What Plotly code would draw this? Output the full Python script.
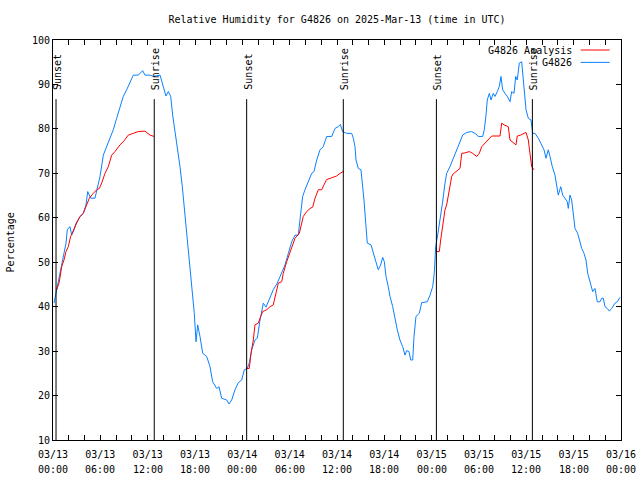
import pandas as pd
import plotly.graph_objects as go

START = pd.Timestamp("2025-03-13 00:00")

# Observed relative humidity (G4826): hours since 03/13 00:00 UTC, value in %
obs_hours = [0.13, 0.47, 0.89, 1.31, 1.65, 1.81, 2.15, 2.37, 2.66, 2.92, 3.42, 3.84, 4.18, 4.40, 4.78,
             5.32, 5.54, 5.96, 6.38, 6.81, 7.23, 7.64, 8.07, 8.49, 8.91, 9.34, 9.76, 10.18, 10.81,
             11.37, 11.66, 12.30, 12.71, 12.93, 13.57, 13.98, 14.32, 14.62, 14.92, 15.17, 15.46,
             15.76, 16.10, 16.39, 16.64, 16.86, 17.15, 17.45, 17.71, 17.91, 18.13, 18.34, 18.63,
             18.98, 19.48, 19.90, 20.24, 20.75, 21.04, 21.38, 22.02, 22.31, 22.65, 23.07, 23.49,
             23.92, 24.25, 24.63, 24.88, 25.19, 25.60, 25.90, 26.24, 26.66, 27.00, 27.42, 27.92,
             28.43, 28.99, 29.41, 29.83, 30.26, 30.68, 31.09, 31.40, 31.65, 31.94, 32.36, 32.79,
             33.08, 33.43, 33.84, 34.26, 34.69, 35.33, 35.75, 36.16, 36.42, 36.72, 37.23, 37.86,
             38.07, 38.28, 38.41, 38.70, 39.04, 39.26, 39.42, 39.64, 39.84, 40.31, 40.60, 40.91,
             41.23, 41.54, 41.79, 42.00, 42.21, 42.50, 42.72, 43.06, 43.35, 43.64, 43.98, 44.33,
             44.62, 44.83, 45.13, 45.34, 45.60, 45.76, 46.01, 46.43, 46.74, 47.45, 47.79, 48.13,
             48.33, 48.51, 48.76, 49.06, 49.37, 49.69, 49.90, 50.32, 50.74, 51.17, 51.59, 51.93,
             52.44, 53.07, 53.49, 53.91, 54.47, 54.67, 54.89, 55.05, 55.31, 55.52, 55.81, 56.03,
             56.32, 56.57, 56.79, 57.00, 57.29, 57.59, 57.93, 58.14, 58.44, 58.65, 58.85, 59.11,
             59.41, 59.70, 59.96, 60.25, 60.59, 60.81, 61.10, 61.52, 61.95, 62.24, 62.49, 62.78,
             63.00, 63.29, 63.63, 63.85, 64.05, 64.36, 64.61, 64.90, 65.19, 65.32, 65.53, 65.75,
             65.95, 66.17, 66.51, 66.80, 67.02, 67.31, 67.56, 67.78, 68.07, 68.41, 68.70, 68.99,
             69.34, 69.55, 69.75, 69.97, 70.26, 70.52, 70.82, 71.24, 71.53, 71.87]
obs_values = [40.8, 43.8, 47.6, 50.5, 54.3, 57.3, 58.0, 56.1, 57.2, 58.8, 60.2, 61.0, 62.9, 65.9, 64.4,
              64.4, 66.3, 69.3, 74.1, 76.0, 77.9, 79.8, 82.4, 85.0, 87.3, 88.8, 90.3, 92.1, 92.1,
              93.1, 92.1, 92.1, 91.8, 91.9, 92.1, 89.5, 87.4, 88.4, 87.3, 83.1, 79.8,
              76.0, 71.5, 67.0, 62.5, 57.3, 52.0, 47.5, 43.0, 38.5, 32.1, 35.9, 33.3,
              29.5, 28.8, 26.5, 23.1, 21.6, 22.0, 19.4, 19.0, 18.1, 19.0, 21.3, 22.9,
              23.5, 25.8, 26.1, 27.3, 30.3, 32.5, 32.9, 37.0, 40.8, 39.9, 41.5, 43.8,
              45.3, 47.5, 49.4, 52.0, 54.6, 56.1, 56.1, 61.0, 64.8, 66.3, 68.1, 70.0,
              70.4, 73.0, 75.3, 76.0, 78.3, 78.3, 80.1, 80.5, 81.0, 79.4, 79.0, 79.0,
              77.9, 76.0, 73.0, 71.1, 70.8, 67.0, 64.0, 58.8, 54.3, 53.9, 52.0, 49.8,
              48.3, 49.4, 51.1, 50.1, 46.8, 44.5, 42.3, 40.0, 37.0, 34.8, 32.5, 31.0,
              29.1, 30.1, 29.9, 28.0, 28.0, 33.3, 37.8, 38.5, 40.9, 41.1, 42.6, 44.5,
              47.5, 53.5, 56.1, 59.5, 63.3, 67.8, 70.0, 71.5, 73.4, 74.9, 76.8, 78.6,
              79.2, 79.4, 79.0, 78.3, 78.3, 79.8, 83.1, 86.5, 88.0, 86.5, 88.0, 87.3,
              88.4, 89.5, 91.8, 88.8, 88.0, 87.3, 86.1, 88.4, 88.0, 91.8, 91.0, 94.8,
              95.1, 89.5, 84.3, 82.4, 82.0, 79.0, 79.0, 77.9, 76.4, 75.3, 73.4, 75.3,
              73.8, 71.5, 69.6, 67.0, 65.1, 67.0, 65.1, 64.4, 63.6, 62.1, 65.1, 64.0,
              60.3, 57.6, 56.5, 54.3, 53.1, 52.0, 50.5, 47.5, 45.6, 43.4, 44.1, 41.1,
              41.1, 41.9, 41.9, 40.0, 39.6, 39.0, 39.6, 40.8, 41.1, 42.1]

# Analysis (G4826 Analysis): three night-time segments
ana1_hours = [0.47, 0.80, 1.10, 1.39, 1.65, 1.94, 2.24, 2.57, 3.00, 3.42, 3.84, 4.18, 4.60, 5.11,
              5.54, 5.87, 6.17, 6.59, 7.01, 7.44, 7.86, 8.49, 8.91, 9.54, 10.18, 10.81, 11.66,
              12.30, 12.80]
ana1_values = [43.8, 45.6, 49.0, 50.5, 52.4, 53.5, 55.8, 57.3, 58.8, 60.3, 61.0, 62.5, 64.4, 65.5,
               66.3, 66.6, 67.8, 70.0, 71.5, 74.1, 74.9, 76.4, 77.1, 78.6, 79.0, 79.4, 79.5,
               78.6, 78.3]
ana2_hours = [24.55, 24.88, 25.10, 25.39, 25.60, 26.02, 26.33, 26.58, 27.09, 27.51, 27.92, 28.27,
              28.56, 28.99, 29.19, 29.62, 30.04, 30.38, 30.68, 31.22, 31.52, 31.73, 32.16, 32.58,
              32.92, 33.21, 33.63, 34.06, 34.35, 34.69, 35.33, 35.96, 36.38, 36.89]
ana2_values = [26.1, 26.1, 29.5, 32.5, 35.9, 36.3, 37.8, 38.9, 39.3, 40.0, 40.4, 43.0,
               45.3, 45.6, 47.5, 50.1, 52.4, 54.3, 55.4, 56.5, 58.4, 60.3, 61.4, 62.1,
               62.4, 64.4, 66.3, 66.3, 67.4, 68.6, 69.0, 69.4, 70.0, 70.5]
ana3_hours = [48.64, 48.97, 49.14, 49.40, 49.69, 49.90, 50.11, 50.32, 50.54, 50.74, 51.17, 51.59,
              51.81, 52.23, 52.77, 53.20, 53.71, 54.04, 54.34, 54.76, 54.98, 55.39, 55.61, 56.66,
              56.88, 57.17, 57.71, 57.93, 58.35, 58.69, 58.85, 59.28, 59.96, 60.25, 60.46, 60.68,
              60.97]
ana3_values = [52.4, 52.4, 55.0, 58.8, 61.8, 62.9, 65.1, 67.4, 69.3, 69.9, 70.6, 71.1,
               74.5, 74.6, 74.9, 74.5, 73.8, 74.5, 76.0, 76.8, 77.1, 77.9, 78.4, 78.4,
               81.3, 80.9, 80.5, 77.5, 76.9, 76.4, 78.4, 78.6, 79.2, 77.5, 74.5, 71.5,
               70.8]

# Sun events
event_times = ["2025-03-13 00:23", "2025-03-13 12:50", "2025-03-14 00:33",
               "2025-03-14 12:48", "2025-03-15 00:36", "2025-03-15 12:46"]
event_labels = ["Sunset", "Sunrise", "Sunset", "Sunrise", "Sunset", "Sunrise"]

title_text = "Relative Humidity for G4826 on 2025-Mar-13 (time in UTC)"
y_title = "Percentage"
series_names = ["G4826 Analysis", "G4826"]
series_colors = ["#ff0000", "#0a80ff"]

FONT = "DejaVu Sans Mono"


def to_time(hours):
    return [START + pd.Timedelta(hours=h) for h in hours]


ana_x = to_time(ana1_hours) + [None] + to_time(ana2_hours) + [None] + to_time(ana3_hours)
ana_y = ana1_values + [None] + ana2_values + [None] + ana3_values

fig = go.Figure()
fig.add_trace(go.Scatter(x=to_time(obs_hours), y=obs_values, mode="lines",
                         line=dict(color=series_colors[1], width=1),
                         name=series_names[1], showlegend=False))
fig.add_trace(go.Scatter(x=ana_x, y=ana_y, mode="lines", connectgaps=False,
                         line=dict(color=series_colors[0], width=1),
                         name=series_names[0], showlegend=False))

shapes = []
annotations = []
for t, lab in zip(event_times, event_labels):
    shapes.append(dict(type="line", xref="x", yref="y", x0=t, x1=t, y0=10, y1=86.7,
                       line=dict(color="black", width=1)))
    annotations.append(dict(x=t, y=88.3, xref="x", yref="y", text=lab, textangle=-90,
                            showarrow=False, xanchor="center", yanchor="bottom", xshift=1,
                            font=dict(family=FONT, size=10, color="black")))

# Gnuplot-style legend (text left of sample line)
for i, (nm, col) in enumerate(zip(series_names, series_colors)):
    yp = 0.975 - i * 0.031
    annotations.append(dict(x=0.918, y=yp, xref="paper", yref="paper", text=nm, showarrow=False,
                            xanchor="right", yanchor="middle",
                            font=dict(family=FONT, size=10, color="black")))
    shapes.append(dict(type="line", xref="paper", yref="paper", x0=0.929, x1=0.98, y0=yp, y1=yp,
                       line=dict(color=col, width=1)))

# Y axis title
annotations.append(dict(x=-0.075, y=0.495, xref="paper", yref="paper", text=y_title,
                        textangle=-90, showarrow=False, xanchor="center", yanchor="middle",
                        font=dict(family=FONT, size=10, color="black")))

tick_times = pd.date_range("2025-03-13 00:00", "2025-03-16 00:00", freq="2h")
tick_text = [t.strftime("%m/%d") if t.hour % 6 == 0 else "" for t in tick_times]

# Second line of the time tick labels (HH:MM), placed as in gnuplot
for t in tick_times:
    if t.hour % 6 == 0:
        annotations.append(dict(x=t, y=-0.0725, xref="x", yref="paper", text=t.strftime("%H:%M"),
                                showarrow=False, xanchor="center", yanchor="middle",
                                font=dict(family=FONT, size=10, color="black")))

fig.update_layout(
    width=640, height=480,
    margin=dict(l=53, r=19, t=40, b=40, autoexpand=False),
    paper_bgcolor="white", plot_bgcolor="white",
    font=dict(family=FONT, size=10, color="black"),
    title=dict(text=title_text, x=(53 + 284) / 640, xanchor="center", y=1 - 19 / 480,
               yanchor="middle", font=dict(family=FONT, size=10, color="black")),
    shapes=shapes, annotations=annotations,
    showlegend=False,
)
fig.update_xaxes(range=[START, START + pd.Timedelta(hours=72)], tickvals=list(tick_times),
                 ticktext=tick_text, ticks="inside", ticklen=5, tickcolor="black",
                 showline=True, linecolor="black", linewidth=1, mirror="ticks",
                 showgrid=False, zeroline=False, tickfont=dict(family=FONT, size=10),
                 ticklabelstandoff=5, automargin=False)
fig.update_yaxes(range=[10, 100], dtick=10, tick0=10, ticks="inside", ticklen=5, tickcolor="black",
                 showline=True, linecolor="black", linewidth=1, mirror="ticks",
                 showgrid=False, zeroline=False, tickfont=dict(family=FONT, size=10),
                 automargin=False)

fig.write_html("out.html", config={"displayModeBar": False},
               post_script="document.body.style.margin='0';")
